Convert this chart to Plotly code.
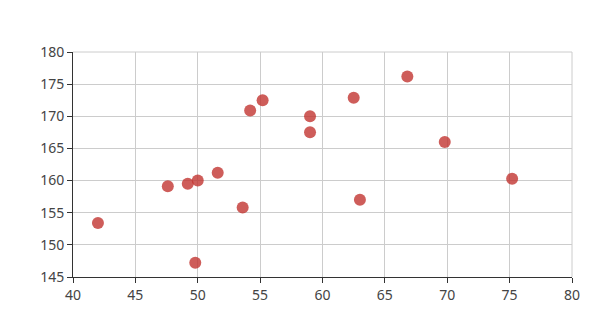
import plotly.graph_objects as go

weight = [42.0, 47.6, 49.2, 50.0, 49.8, 51.6, 53.6, 54.2, 55.2, 59.0, 59.0, 62.5, 63.0, 66.8, 69.8, 75.2]
height = [153.4, 159.1, 159.5, 160.0, 147.2, 161.2, 155.8, 170.9, 172.5, 170.0, 167.5, 172.9, 157.0, 176.2, 166.0, 160.3]

x_ticks = [40, 45, 50, 55, 60, 65, 70, 75, 80]
y_ticks = [145, 150, 155, 160, 165, 170, 175, 180]

fig = go.Figure(go.Scatter(
    x=weight, y=height, mode="markers",
    marker=dict(size=12, color="rgba(194,53,49,0.8)", line=dict(width=0)),
    hoverinfo="x+y",
))

axis_common = dict(
    showgrid=True, gridcolor="#cccccc", gridwidth=1,
    showline=True, linecolor="#333333", linewidth=1,
    ticks="outside", ticklen=5, tickcolor="#333333",
    zeroline=False,
    tickfont=dict(family="Noto Sans, Open Sans, sans-serif", size=14, color="#444444"),
)

fig.update_xaxes(range=[40, 80], tickvals=x_ticks, ticktext=[str(v) for v in x_ticks], **axis_common)
fig.update_yaxes(range=[145, 180], tickvals=y_ticks, ticktext=[str(v) for v in y_ticks], **axis_common)

# light frame edges on the right and top (grid lines at range ends)
fig.add_shape(type="line", xref="paper", yref="paper", x0=1, x1=1, y0=0, y1=1,
              line=dict(color="#cccccc", width=1), layer="below")
fig.add_shape(type="line", xref="paper", yref="paper", x0=0, x1=1, y0=1, y1=1,
              line=dict(color="#cccccc", width=1), layer="below")

fig.update_layout(
    width=615, height=336,
    margin=dict(l=72.5, r=42.5, t=52, b=59, pad=0),
    plot_bgcolor="white", paper_bgcolor="white",
    showlegend=False,
)

fig.write_html("out.html")
